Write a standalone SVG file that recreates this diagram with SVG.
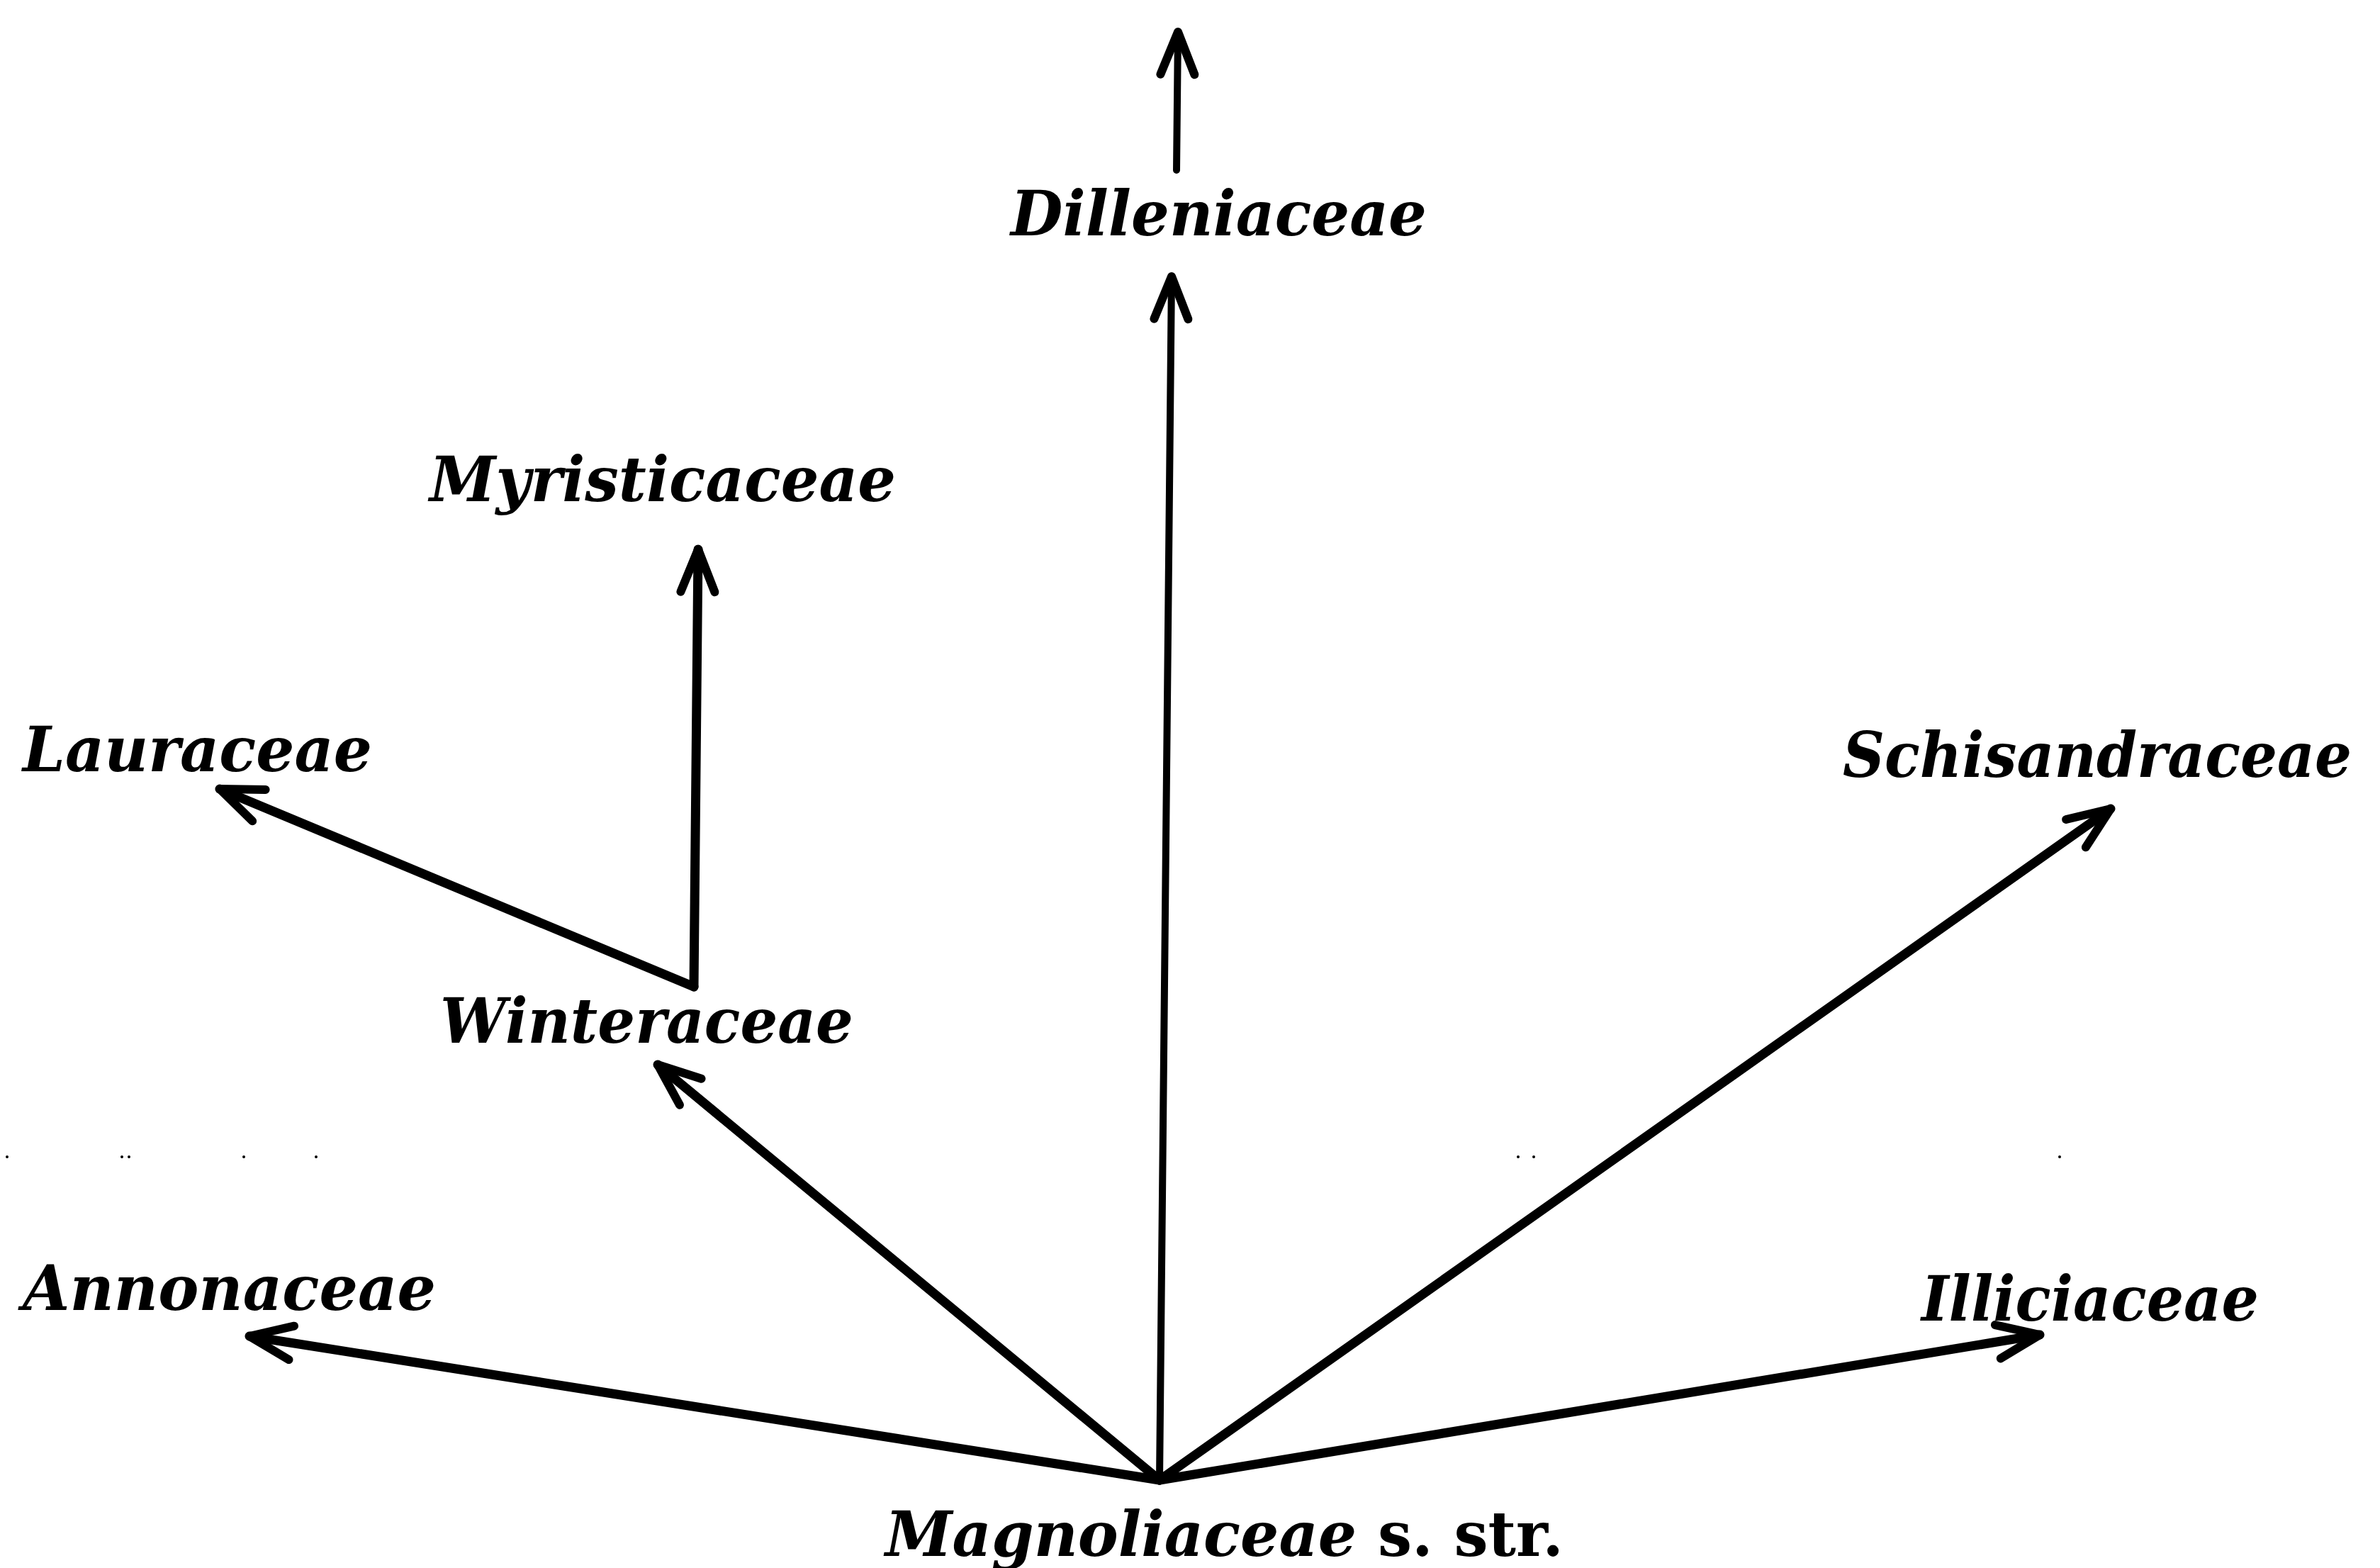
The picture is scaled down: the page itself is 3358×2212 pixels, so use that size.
<svg xmlns="http://www.w3.org/2000/svg" width="3358" height="2212" viewBox="0 0 3358 2212">
<style>
.lbl{font-family:"DejaVu Serif","Liberation Serif",serif;font-weight:bold;font-style:italic;font-size:88px;fill:#000}
.up{font-style:normal}
.edge{stroke:#000;stroke-width:13;fill:none;stroke-linecap:round}
.thin{stroke-width:10}
.speck{fill:#000}
</style>
<defs>
<marker id="ah" markerUnits="userSpaceOnUse" viewBox="-70 -40 80 80" markerWidth="80" markerHeight="80" refX="0" refY="0" orient="auto">
<path d="M -60 -24 L 0 0 L -60 24" fill="none" stroke="#000" stroke-width="12" stroke-linecap="round" stroke-linejoin="round"/>
</marker>
</defs>
<rect width="3358" height="2212" fill="#fff"/>
<g id="connectors">
<line class="edge thin" x1="1636" y1="2088" x2="1653" y2="390" marker-end="url(#ah)"/>
<line class="edge thin" x1="1660" y1="240" x2="1662" y2="45" marker-end="url(#ah)"/>
<line class="edge" x1="1636" y1="2088" x2="928" y2="1502" marker-end="url(#ah)"/>
<line class="edge" x1="979" y1="1392" x2="985" y2="775" marker-end="url(#ah)"/>
<line class="edge" x1="979" y1="1392" x2="310" y2="1113" marker-end="url(#ah)"/>
<line class="edge" x1="1636" y1="2088" x2="2978" y2="1141" marker-end="url(#ah)"/>
<line class="edge" x1="1636" y1="2088" x2="352" y2="1885" marker-end="url(#ah)"/>
<line class="edge" x1="1636" y1="2088" x2="2878" y2="1883" marker-end="url(#ah)"/>
</g>
<g id="node-dilleniaceae"><text class="lbl" x="1426" y="332" textLength="587" lengthAdjust="spacingAndGlyphs">Dilleniaceae</text></g>
<g id="node-myristicaceae"><text class="lbl" x="606" y="707" textLength="658" lengthAdjust="spacingAndGlyphs">Myristicaceae</text></g>
<g id="node-lauraceae"><text class="lbl" x="32" y="1088" textLength="493" lengthAdjust="spacingAndGlyphs">Lauraceae</text></g>
<g id="node-winteraceae"><text class="lbl" x="621" y="1471" textLength="583" lengthAdjust="spacingAndGlyphs">Winteraceae</text></g>
<g id="node-schisandraceae"><text class="lbl" transform="translate(2600 1096) scale(1 1.2)" x="0" y="0" style="font-size:73px" textLength="718" lengthAdjust="spacingAndGlyphs">Schisandraceae</text></g>
<g id="node-annonaceae"><text class="lbl" x="32" y="1848" textLength="583" lengthAdjust="spacingAndGlyphs">Annonaceae</text></g>
<g id="node-illiciaceae"><text class="lbl" x="2711" y="1863" textLength="476" lengthAdjust="spacingAndGlyphs">Illiciaceae</text></g>
<g id="node-magnoliaceae"><text class="lbl" x="1249" y="2195" textLength="957" lengthAdjust="spacingAndGlyphs">Magnoliaceae <tspan class="up">s. str.</tspan></text></g>
<g id="specks">
<circle class="speck" cx="10" cy="1632" r="2"/>
<circle class="speck" cx="172" cy="1632" r="2"/>
<circle class="speck" cx="182" cy="1632" r="2"/>
<circle class="speck" cx="344" cy="1632" r="2"/>
<circle class="speck" cx="446" cy="1632" r="2"/>
<circle class="speck" cx="2142" cy="1632" r="2"/>
<circle class="speck" cx="2164" cy="1632" r="2"/>
<circle class="speck" cx="2906" cy="1632" r="2"/>
</g>
</svg>
